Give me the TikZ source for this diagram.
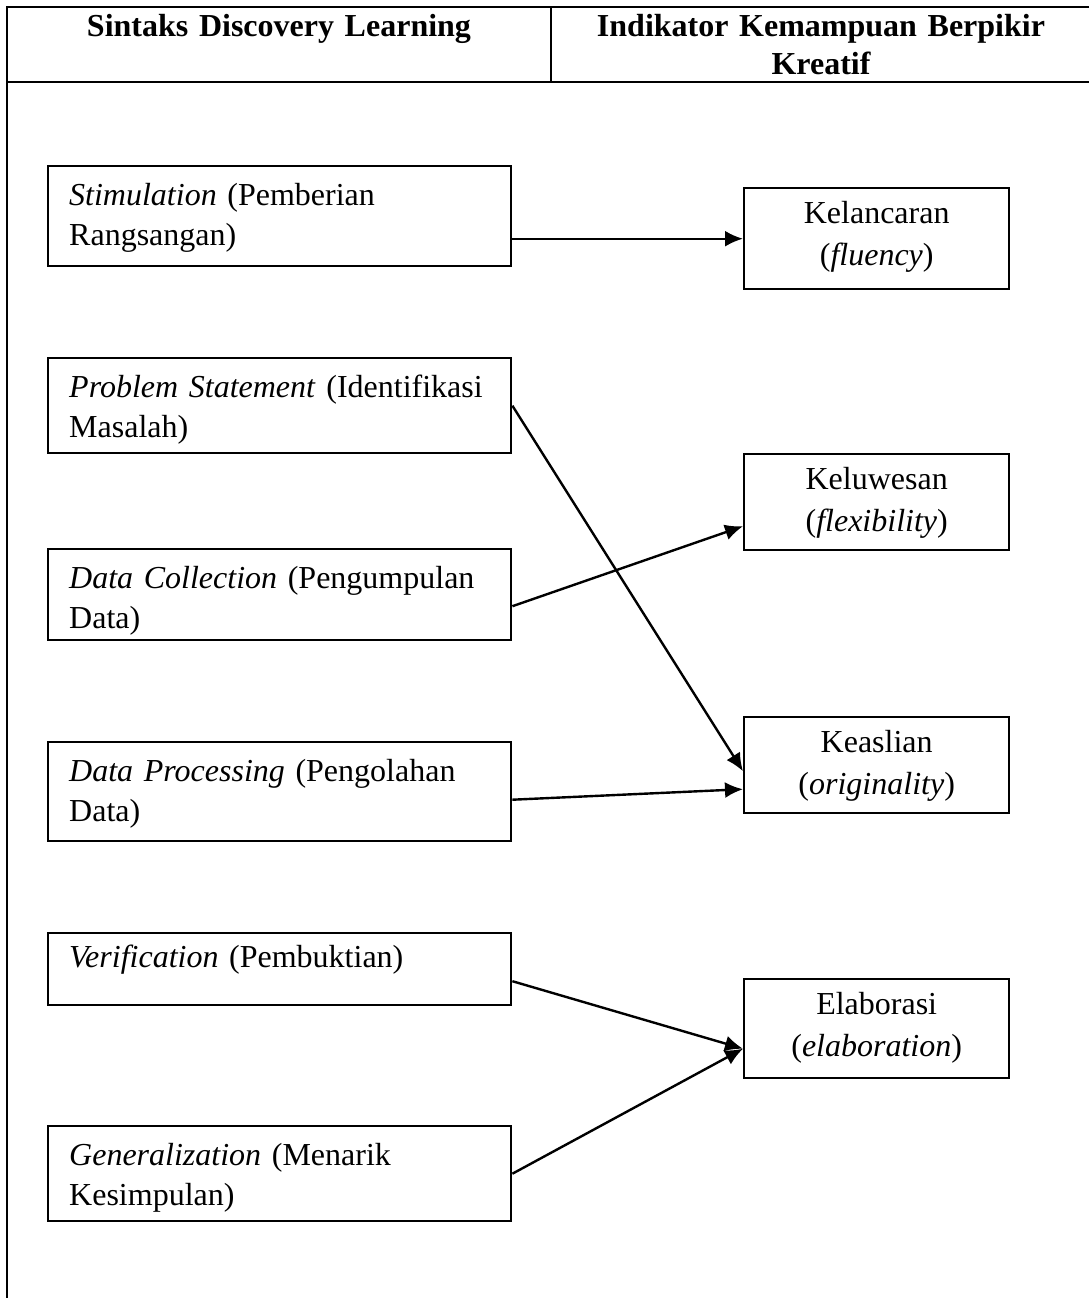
\documentclass[tikz,border=0pt]{standalone}
\usepackage{fontspec}
\setmainfont{Liberation Serif}
\usetikzlibrary{arrows.meta}
\begin{document}
\begin{tikzpicture}[x=0.5pt,y=-0.5pt,>={Latex[length=9pt,width=8pt]},
   judul/.style={font=\fontsize{16}{19}\selectfont\bfseries,align=center,text width=250pt,inner sep=0pt,anchor=base},
   sintaks/.style={draw,line width=1.2pt,anchor=north west,align=left,text width=210.5pt,inner xsep=10.5pt,inner ysep=0pt,text height=19.5pt,font=\fontsize{16}{20}\selectfont},
   indikator/.style={draw,line width=1.2pt,anchor=north west,align=center,text width=122.5pt,inner xsep=5pt,inner ysep=0pt,text height=17.5pt,font=\fontsize{16}{21}\selectfont},
   panah/.style={->,line width=1.2pt}]
   \useasboundingbox (0,0) rectangle (1089,1298);
   %table
   \draw[line width=1.4pt] (1089,7) -- (7,7) -- (7,1298);
   \draw[line width=1.4pt] (7,82) -- (1089,82);
   \draw[line width=1.4pt] (551,7) -- (551,82);
   %header
   \node[judul] (hsintaks) at (279,36) {Sintaks Discovery Learning};
   \node[judul] (hindikator) at (821,36) {Indikator Kemampuan Berpikir\\Kreatif};
   %sintaks
   \node[sintaks,text depth=30.5pt] (stim) at (47,165) {\textit{Stimulation} (Pemberian\\Rangsangan)};
   \node[sintaks,text depth=28pt] (prob) at (47,357) {\textit{Problem Statement} (Identifikasi\\Masalah)};
   \node[sintaks,text depth=26pt] (coll) at (47,548) {\textit{Data Collection} (Pengumpulan\\Data)};
   \node[sintaks,text depth=30pt] (proc) at (47,741) {\textit{Data Processing} (Pengolahan\\Data)};
   \node[sintaks,text height=17pt,text depth=19pt] (verif) at (47,932) {\textit{Verification} (Pembuktian)};
   \node[sintaks,text depth=28pt] (gen) at (47,1125) {\textit{Generalization} (Menarik\\Kesimpulan)};
   %indikator
   \node[indikator,text depth=33pt] (kel) at (743,187) {Kelancaran\\(\textit{fluency})};
   \node[indikator,text depth=30.5pt] (kelu) at (743,453) {Keluwesan\\(\textit{flexibility})};
   \node[indikator,text depth=30.5pt] (keas) at (743,716) {Keaslian\\(\textit{originality})};
   \node[indikator,text depth=32pt] (elab) at (743,978) {Elaborasi\\(\textit{elaboration})};
   %arrows
   \draw[panah] (stim.east |- kel.west) -- (kel.west);
   \draw[panah] (prob.east) -- ([yshift=-3pt]keas.west);
   \draw[panah] ([yshift=-5.75pt]coll.east) -- ([yshift=-12pt]kelu.west);
   \draw[panah] ([yshift=-4pt]proc.east) -- ([yshift=-12pt]keas.west);
   \draw[panah] ([yshift=-6pt]verif.east) -- ([yshift=-10pt]elab.west);
   \draw[panah] (gen.east) -- ([yshift=-10pt]elab.west);
\end{tikzpicture}
\end{document}
